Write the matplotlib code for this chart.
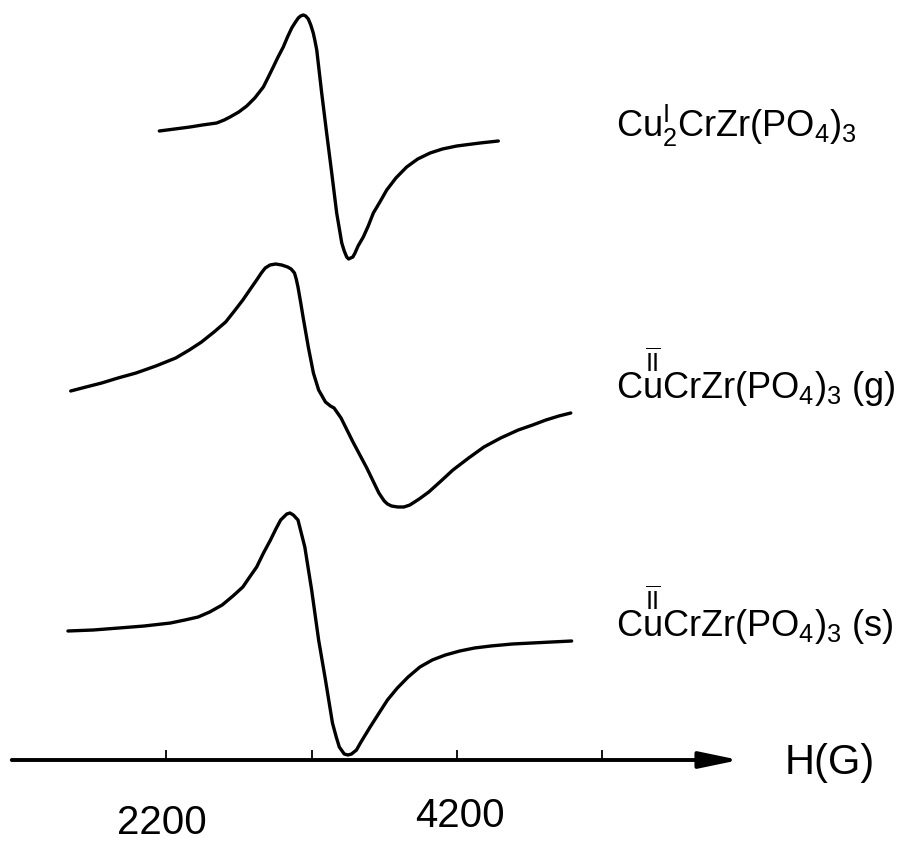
import matplotlib.pyplot as plt

plt.rcParams["font.family"] = ["Liberation Sans", "DejaVu Sans"]
plt.rcParams["mathtext.fontset"] = "custom"
plt.rcParams["mathtext.rm"] = "Liberation Sans"
plt.rcParams["mathtext.it"] = "Liberation Sans:italic"
plt.rcParams["mathtext.bf"] = "Liberation Sans:bold"

# EPR derivative spectra, field in gauss, signal in arbitrary units
field_cu1 = [2154, 2260, 2365, 2450, 2548, 2600, 2640, 2700, 2755, 2810, 2869,
             2900, 2937, 2970, 3006, 3035, 3064, 3090, 3109, 3125, 3144, 3160,
             3178, 3195, 3212, 3224, 3236, 3270, 3304, 3339, 3373, 3408, 3425,
             3442, 3455, 3469, 3484, 3499, 3520, 3556, 3590, 3625, 3670, 3717,
             3780, 3854, 3930, 4015, 4100, 4198, 4358, 4484]
signal_cu1 = [5, 7, 9, 11, 13, 16, 19, 24, 30, 38, 49,
              58, 69, 79, 89, 99, 108, 114, 118, 120, 121, 120,
              117, 111, 103, 95, 86, 43, 3, -37, -77, -107, -115,
              -121, -123, -122, -121, -117, -110, -101, -90, -77, -66, -54,
              -42, -31, -23, -17, -13, -10, -7, -5]

field_cu2_g = [1545, 1650, 1758, 1870, 1994, 2130, 2267, 2360, 2444, 2530, 2610,
               2670, 2728, 2780, 2823, 2855, 2882, 2915, 2953, 2995, 3036, 3060,
               3083, 3095, 3107, 3125, 3142, 3178, 3213, 3249, 3296, 3330, 3355,
               3403, 3485, 3580, 3663, 3700, 3722, 3750, 3793, 3835, 3876, 3940,
               4006, 4090, 4172, 4280, 4385, 4500, 4621, 4720, 4811, 4900, 4982]
signal_cu2_g = [9, 13, 17, 22, 27, 34, 42, 50, 58, 68, 78,
                89, 100, 111, 120, 127, 132, 135, 136, 135, 133, 131,
                127, 121, 113, 98, 83, 53, 27, 10, -2, -6, -8,
                -18, -42, -68, -93, -101, -104, -106, -107, -107, -105, -99,
                -92, -81, -70, -58, -47, -38, -30, -25, -20, -16, -13]

field_cu2_s = [1526, 1700, 1876, 2050, 2231, 2330, 2421, 2500, 2586, 2660, 2728,
               2775, 2823, 2870, 2918, 2955, 2988, 3030, 3052, 3075, 3107, 3154,
               3201, 3249, 3296, 3344, 3370, 3391, 3425, 3450, 3475, 3509, 3540,
               3603, 3660, 3722, 3790, 3864, 3945, 4030, 4120, 4219, 4320, 4432,
               4580, 4716, 4850, 4988]
signal_cu2_s = [5, 6, 8, 10, 13, 16, 19, 24, 31, 40, 49,
                59, 69, 83, 96, 107, 116, 122, 123, 121, 116, 89,
                46, -4, -44, -87, -101, -111, -118, -119, -118, -114, -106,
                -91, -78, -64, -52, -41, -31, -24, -19, -15, -12, -10,
                -8, -7, -6, -5]

labels = [r"Cu$_2^{\mathrm{I}}$CrZr(PO$_4$)$_3$",
          r"C$\overset{\overline{\mathrm{II}}}{\mathrm{u}}$CrZr(PO$_4$)$_3$ (g)",
          r"C$\overset{\overline{\mathrm{II}}}{\mathrm{u}}$CrZr(PO$_4$)$_3$ (s)"]

tick_values = [2200, 3200, 4200, 5200]
tick_labels = ["2200", "", "4200", ""]

fig = plt.figure(figsize=(8.98, 8.44), dpi=100)
ax = fig.add_axes([0, 0, 1, 1])
ax.set_xlim(1059, 7231)
ax.set_ylim(0, 844)
ax.axis("off")

spectra = [(field_cu1, signal_cu1, 708),
           (field_cu2_g, signal_cu2_g, 444),
           (field_cu2_s, signal_cu2_s, 208)]
label_y = [707, 445, 207]

for (field, signal, offset), label, ly in zip(spectra, labels, label_y):
    ax.plot(field, [s + offset for s in signal], color="black", lw=2.4,
            solid_capstyle="round", solid_joinstyle="round")
    ax.text(5290, ly, label, fontsize=26, ha="left", va="baseline")

# field axis with arrow
axis_y = 84
ax.annotate("", xy=(6140, axis_y), xytext=(1140, axis_y),
            arrowprops=dict(arrowstyle="-|>,head_length=2.4,head_width=0.5",
                            mutation_scale=10, lw=2.8, color="black",
                            shrinkA=0, shrinkB=0))
ax.vlines(tick_values, axis_y, axis_y + 10, color="black", lw=1.3)
ax.text(tick_values[0] - 30, 10, tick_labels[0], fontsize=29, ha="center", va="baseline")
ax.text(tick_values[2] + 20, 17, tick_labels[2], fontsize=29, ha="center", va="baseline")
ax.text(6452, 70, "H(G)", fontsize=30, ha="left", va="baseline")

plt.savefig("out.png", dpi=100)
